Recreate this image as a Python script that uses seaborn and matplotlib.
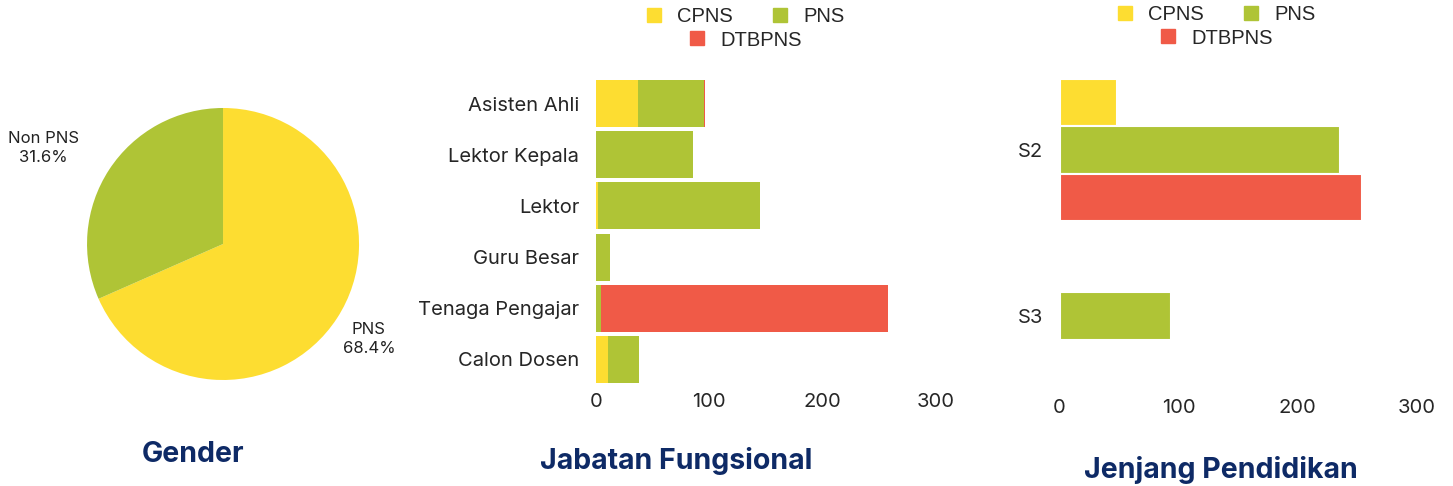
import numpy as np
import pandas as pd
import seaborn as sns
import matplotlib.pyplot as plt
from matplotlib.patches import Patch

# pie: status kepegawaian
pie_labels = ['PNS', 'Non PNS']
pie_pct = [68.4, 31.6]

# jabatan fungsional (stacked)
jabatan = ['Asisten Ahli', 'Lektor Kepala', 'Lektor', 'Guru Besar',
           'Tenaga Pengajar', 'Calon Dosen']
jab_cpns = [37, 0, 2, 0, 0, 11]
jab_pns = [58, 86, 143, 12, 4, 27]
jab_dtbpns = [1, 0, 0, 0, 254, 0]

# jenjang pendidikan (grouped)
jenjang = ['S2', 'S3']
jen_cpns = [48, 0]
jen_pns = [236, 94]
jen_dtbpns = [254, 0]

status = ['CPNS', 'PNS', 'DTBPNS']
colors = {'CPNS': '#FDDD31', 'PNS': '#AFC436', 'DTBPNS': '#F05A47'}
navy = '#0E2A66'

sns.set_theme(style='white')
plt.rcParams['font.family'] = ['Inter', 'DejaVu Sans']

fig = plt.figure(figsize=(14.53, 4.86), dpi=100)

# ---- pie ----
ax_pie = fig.add_axes([0.0599, 0.2181, 0.1872, 0.5597])
wedges, _ = ax_pie.pie(pie_pct, colors=[colors['CPNS'], colors['PNS']],
                       startangle=90, counterclock=False, radius=1,
                       wedgeprops={'linewidth': 0})
label_dist = [1.28, 1.5]
label_shift = [0, 5]
for w, lab, pct, d, s in zip(wedges, pie_labels, pie_pct, label_dist, label_shift):
    ang = np.deg2rad((w.theta1 + w.theta2) / 2 + s)
    ax_pie.text(d * np.cos(ang), d * np.sin(ang), f'{lab}\n{pct}%',
                ha='center', va='center', fontsize=12, color='#222222',
                linespacing=1.3)
ax_pie.set_xlim(-1, 1)
ax_pie.set_ylim(-1, 1)
ax_pie.set_aspect('equal')
fig.text(193 / 1453, 1 - 454 / 486, 'Gender', ha='center', va='center',
         fontsize=20.5, fontweight='bold', color=navy)

legend_kw = dict(loc='center', bbox_transform=fig.transFigure, frameon=False,
                 handlelength=0.7, handleheight=0.7, handletextpad=0.8,
                 prop={'family': 'Liberation Sans', 'size': 14.5})
handles = [Patch(color=colors[s]) for s in status]

# ---- jabatan fungsional ----
df_jab = pd.DataFrame({'jabatan': jabatan, 'CPNS': jab_cpns,
                       'PNS': jab_pns, 'DTBPNS': jab_dtbpns})
df_jab['s_dtbpns'] = df_jab['CPNS'] + df_jab['PNS'] + df_jab['DTBPNS']
df_jab['s_pns'] = df_jab['CPNS'] + df_jab['PNS']
df_jab['s_cpns'] = df_jab['CPNS']

ax_jab = fig.add_axes([0.4102, 0.2078, 0.234, 0.6317])
for col, key in [('s_dtbpns', 'DTBPNS'), ('s_pns', 'PNS'), ('s_cpns', 'CPNS')]:
    sns.barplot(data=df_jab, y='jabatan', x=col, order=jabatan,
                color=colors[key], saturation=1, width=0.92,
                linewidth=0, ax=ax_jab)
ax_jab.set_xlim(0, 300)
ax_jab.set_xticks([0, 100, 200, 300])
ax_jab.set_xlabel('')
ax_jab.set_ylabel('')
ax_jab.tick_params(axis='y', labelsize=14.5, pad=12, length=0)
ax_jab.tick_params(axis='x', labelsize=14.5, pad=6, length=0)
sns.despine(ax=ax_jab, left=True, bottom=True)

leg1 = ax_jab.legend(handles[:2], status[:2], ncol=2, columnspacing=2,
                     bbox_to_anchor=(746 / 1453, 1 - 17 / 486), **legend_kw)
ax_jab.add_artist(leg1)
ax_jab.legend(handles[2:], status[2:],
              bbox_to_anchor=(746 / 1453, 1 - 40 / 486), **legend_kw)
fig.text(676 / 1453, 1 - 461 / 486, 'Jabatan Fungsional', ha='center',
         va='center', fontsize=20.5, fontweight='bold', color=navy)

# ---- jenjang pendidikan ----
df_jen = pd.DataFrame({'jenjang': jenjang, 'CPNS': jen_cpns,
                       'PNS': jen_pns, 'DTBPNS': jen_dtbpns})
df_jen = df_jen.melt(id_vars='jenjang', var_name='status', value_name='jumlah')

ax_jen = fig.add_axes([0.7292, 0.179, 0.2458, 0.6831])
sns.barplot(data=df_jen, y='jenjang', x='jumlah', hue='status',
            order=jenjang, hue_order=status, palette=colors, saturation=1,
            width=0.86, linewidth=1.5, edgecolor='white', ax=ax_jen)
ax_jen.set_xlim(0, 300)
ax_jen.set_xticks([0, 100, 200, 300])
ax_jen.set_xlabel('')
ax_jen.set_ylabel('')
ax_jen.tick_params(axis='y', labelsize=14.5, pad=12, length=0)
ax_jen.tick_params(axis='x', labelsize=14.5, pad=0, length=0)
sns.despine(ax=ax_jen, left=True, bottom=True)
ax_jen.get_legend().remove()

leg2 = ax_jen.legend(handles[:2], status[:2], ncol=2, columnspacing=2,
                     bbox_to_anchor=(1217 / 1453, 1 - 15 / 486), **legend_kw)
ax_jen.add_artist(leg2)
ax_jen.legend(handles[2:], status[2:],
              bbox_to_anchor=(1217 / 1453, 1 - 38 / 486), **legend_kw)
fig.text(1221 / 1453, 1 - 470 / 486, 'Jenjang Pendidikan', ha='center',
         va='center', fontsize=20.5, fontweight='bold', color=navy)

fig.savefig('out.png', dpi=100)
